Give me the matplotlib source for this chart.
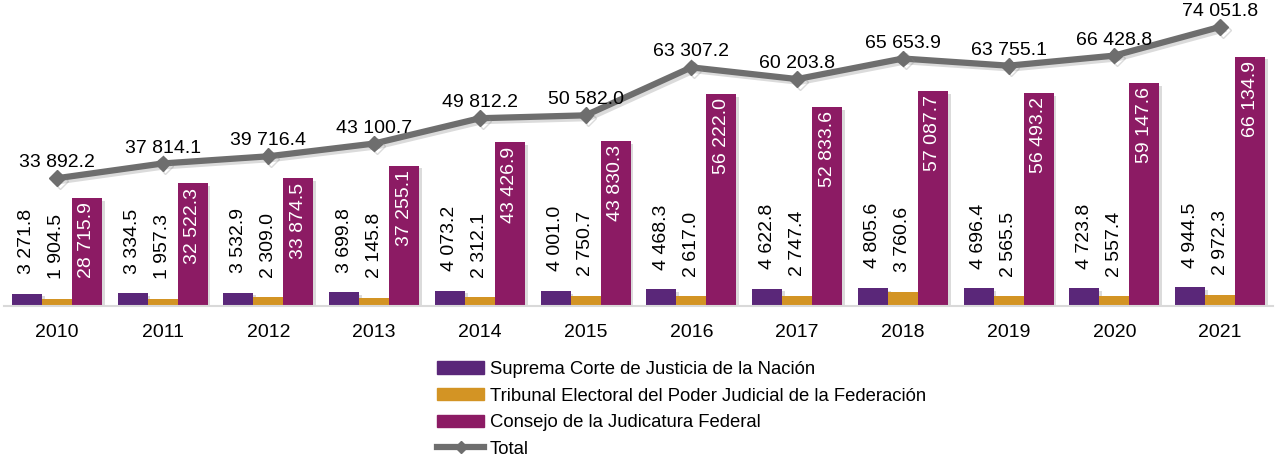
import matplotlib.pyplot as plt
import matplotlib.patheffects as pe
from matplotlib.patches import Patch
from matplotlib.lines import Line2D
import numpy as np

plt.rcParams['font.family'] = ['Liberation Sans', 'DejaVu Sans']

years = ['2010', '2011', '2012', '2013', '2014', '2015', '2016', '2017', '2018', '2019', '2020', '2021']
suprema = [3271.8, 3334.5, 3532.9, 3699.8, 4073.2, 4001.0, 4468.3, 4622.8, 4805.6, 4696.4, 4723.8, 4944.5]
tribunal = [1904.5, 1957.3, 2309.0, 2145.8, 2312.1, 2750.7, 2617.0, 2747.4, 3760.6, 2565.5, 2557.4, 2972.3]
consejo = [28715.9, 32522.3, 33874.5, 37255.1, 43426.9, 43830.3, 56222.0, 52833.6, 57087.7, 56493.2, 59147.6, 66134.9]
total = [33892.2, 37814.1, 39716.4, 43100.7, 49812.2, 50582.0, 63307.2, 60203.8, 65653.9, 63755.1, 66428.8, 74051.8]

names = ['Suprema Corte de Justicia de la Nación',
         'Tribunal Electoral del Poder Judicial de la Federación',
         'Consejo de la Judicatura Federal',
         'Total']
colors = ['#5a2779', '#d39424', '#8c1b64']
line_color = '#6e6e6e'


def fmt(v):
    return f"{v:,.1f}".replace(",", " ")


fig = plt.figure(figsize=(12.76, 4.59), dpi=100)
ax = fig.add_axes([4 / 1276, 0.3333, 1269 / 1276, 0.657])

x = np.arange(len(years))
w = 0.283
shadow = [pe.SimplePatchShadow(offset=(2, -2), shadow_rgbFace='#999999', alpha=0.35), pe.Normal()]

for i, (vals, c) in enumerate(zip([suprema, tribunal, consejo], colors)):
    bars = ax.bar(x + (i - 1) * w, vals, width=w, color=c, zorder=2)
    for b in bars:
        b.set_path_effects(shadow)
    for xi, v in zip(x + (i - 1) * w, vals):
        if i < 2:
            ax.annotate(fmt(v), (xi, v), xytext=(0, 14), textcoords='offset points',
                        rotation=90, ha='center', va='bottom', fontsize=14, color='black')
        else:
            ax.annotate(fmt(v), (xi, v), xytext=(0, -3), textcoords='offset points',
                        rotation=90, ha='center', va='top', fontsize=14, color='white')

ax.plot(x, total, color=line_color, lw=4.5, marker='D', ms=8, zorder=3,
        path_effects=[pe.SimpleLineShadow(offset=(2, -2), shadow_color='#888888', alpha=0.3), pe.Normal()])
for xi, v in zip(x, total):
    ax.annotate(fmt(v), (xi, v), xytext=(0, 5), textcoords='offset points',
                ha='center', va='bottom', fontsize=14, color='black')

ax.set_xlim(-0.5, 11.5)
ax.set_ylim(0, 80000)
ax.set_xticks(x)
ax.set_xticklabels(years, fontsize=14)
ax.tick_params(axis='x', length=0, pad=13)
ax.set_yticks([])
for s in ['top', 'right', 'left']:
    ax.spines[s].set_visible(False)
ax.spines['bottom'].set_color('#d9d9d9')
ax.spines['bottom'].set_linewidth(1.5)

handles = [Patch(color=c) for c in colors]
handles.append(Line2D([], [], color=line_color, lw=4.5, marker='D', ms=6))
fig.legend(handles, names, loc='upper left', bbox_to_anchor=(437 / 1276, 1 - 361 / 459),
           frameon=False, fontsize=13.3, handlelength=2.55, handleheight=0.65,
           handletextpad=0.3, labelspacing=0.52, borderpad=0, borderaxespad=0)

fig.savefig('out.png', dpi=100)
